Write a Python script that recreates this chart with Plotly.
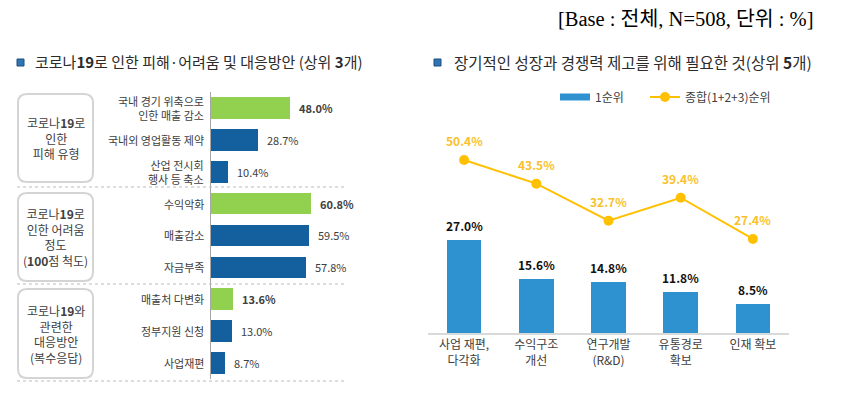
import plotly.graph_objects as go

# page has an 8px body margin; figure sized to fit inside the 841x418 window
OFF = 8
W, H = 825, 402

# ---------------- data ----------------
header_text = "[Base : 전체, N=508, 단위 : %]"
left_title = "코로나<b>19</b>로 인한 피해·어려움 및 대응방안 (상위 <b>3</b>개)"
right_title = "장기적인 성장과 경쟁력 제고를 위해 필요한 것(상위 <b>5</b>개)"

group_names = [
    "코로나<b>19</b>로<br>인한<br>피해 유형",
    "코로나<b>19</b>로<br>인한 어려움<br>정도<br>(<b>100</b>점 척도)",
    "코로나<b>19</b>와<br>관련한<br>대응방안<br>(복수응답)",
]
left_labels = [
    "국내 경기 위축으로<br>인한 매출 감소", "국내외 영업활동 제약", "산업 전시회<br>행사 등 축소",
    "수익악화", "매출감소", "자금부족",
    "매출처 다변화", "정부지원 신청", "사업재편",
]
left_values = [48.0, 28.7, 10.4, 60.8, 59.5, 57.8, 13.6, 13.0, 8.7]
left_group = [0, 0, 0, 1, 1, 1, 2, 2, 2]

right_categories = ["사업 재편,<br>다각화", "수익구조<br>개선", "연구개발<br>(R&D)", "유통경로<br>확보", "인재 확보"]
rank1_values = [27.0, 15.6, 14.8, 11.8, 8.5]
total_values = [50.4, 43.5, 32.7, 39.4, 27.4]
legend_names = ["1순위", "종합(1+2+3)순위"]

# ---------------- helpers ----------------
def px(x):
    return (x - OFF) / W


def py(y):
    return 1 - (y - OFF) / H


FONT = "Noto Sans CJK KR, Noto Sans, sans-serif"
GREEN = "#92D050"
DBLUE = "#14609E"
RBLUE = "#2E92D0"
YEL = "#FFC000"
YEL_TXT = "#F9C12C"
GRAY_TXT = "#404040"

# highlight = max in each group
highlight = []
for i, v in enumerate(left_values):
    gv = [left_values[j] for j in range(len(left_values)) if left_group[j] == left_group[i]]
    highlight.append(v == max(gv))

left_y = list(range(len(left_values)))
right_x = list(range(len(right_categories)))

fig = go.Figure()

# left bars
fig.add_trace(go.Bar(
    x=left_values, y=left_y, orientation="h",
    marker=dict(color=[GREEN if h else DBLUE for h in highlight], line=dict(width=0)),
    width=0.68, xaxis="x", yaxis="y", showlegend=False, hoverinfo="skip",
))

# right bars
fig.add_trace(go.Bar(
    x=right_x, y=rank1_values,
    marker=dict(color=RBLUE, line=dict(width=0)), width=0.48,
    xaxis="x2", yaxis="y2", name=legend_names[0], showlegend=False, hoverinfo="skip",
))
# legend proxy for the bars (flat wide swatch as in the reference)
fig.add_trace(go.Scatter(
    x=[None], y=[None], mode="lines", line=dict(color=RBLUE, width=7),
    xaxis="x2", yaxis="y2", name=legend_names[0], legend="legend",
))
# right line
fig.add_trace(go.Scatter(
    x=right_x, y=total_values, mode="lines+markers",
    line=dict(color=YEL, width=2), marker=dict(color=YEL, size=10),
    xaxis="x2", yaxis="y2", name=legend_names[1], legend="legend2", hoverinfo="skip",
))

annotations = []
shapes = []

# left category labels (right-aligned next to the axis)
for i, lab in enumerate(left_labels):
    annotations.append(dict(
        x=0, y=i, xref="x", yref="y", text=lab, showarrow=False,
        xanchor="right", yanchor="middle", align="right", xshift=-5,
        font=dict(size=11, color=GRAY_TXT, family=FONT),
    ))

# left value labels
for i, v in enumerate(left_values):
    t = f"{v:.1f}%"
    if highlight[i]:
        t = f"<b>{t}</b>"
    annotations.append(dict(
        x=v, y=i, xref="x", yref="y", text=t, showarrow=False,
        xanchor="left", xshift=7, font=dict(size=11, color=GRAY_TXT, family=FONT),
    ))

# right bar labels
for i, v in enumerate(rank1_values):
    annotations.append(dict(
        x=i, y=v, xref="x2", yref="y2", text=f"<b>{v:.1f}%</b>", showarrow=False,
        yanchor="bottom", yshift=4, font=dict(size=12, color="#111111", family=FONT),
    ))
for i, v in enumerate(total_values):
    annotations.append(dict(
        x=i, y=v, xref="x2", yref="y2", text=f"<b>{v:.1f}%</b>", showarrow=False,
        yanchor="bottom", yshift=9, font=dict(size=12, color=YEL_TXT, family=FONT),
    ))

# header
annotations.append(dict(
    x=px(816), y=py(19), xref="paper", yref="paper", text=header_text, showarrow=False,
    xanchor="right", yanchor="middle",
    font=dict(size=20.5, color="#000000", family="Liberation Serif, Noto Sans CJK KR, serif"),
))

# titles
for tx, sx, text, fs in [(33, 20, left_title, 15), (452, 437, right_title, 15.5)]:
    annotations.append(dict(
        x=px(tx), y=py(62), xref="paper", yref="paper", text=text, showarrow=False,
        xanchor="left", yanchor="middle", font=dict(size=fs, color="#2B2B2B", family=FONT),
    ))
    shapes.append(dict(
        type="rect", xref="paper", yref="paper",
        x0=px(sx - 3), x1=px(sx + 4), y0=py(66), y1=py(59),
        fillcolor="#2E75B6", line=dict(color="#1F4E79", width=1),
    ))


# group boxes
def rounded(x0, y0, x1, y1, r):
    pts = [
        f"M {px(x0 + r)},{py(y0)}",
        f"L {px(x1 - r)},{py(y0)}",
        f"Q {px(x1)},{py(y0)} {px(x1)},{py(y0 + r)}",
        f"L {px(x1)},{py(y1 - r)}",
        f"Q {px(x1)},{py(y1)} {px(x1 - r)},{py(y1)}",
        f"L {px(x0 + r)},{py(y1)}",
        f"Q {px(x0)},{py(y1)} {px(x0)},{py(y1 - r)}",
        f"L {px(x0)},{py(y0 + r)}",
        f"Q {px(x0)},{py(y0)} {px(x0 + r)},{py(y0)}",
        "Z",
    ]
    return " ".join(pts)


boxes = [(94, 182), (193, 281), (289, 378)]
for (b0, b1), name in zip(boxes, group_names):
    shapes.append(dict(
        type="path", xref="paper", yref="paper", path=rounded(18, b0, 93, b1, 9),
        line=dict(color="#D4D4D4", width=2), fillcolor="white", layer="below",
    ))
    annotations.append(dict(
        x=px(55.5), y=py((b0 + b1) / 2), xref="paper", yref="paper", text=name,
        showarrow=False, xanchor="center", yanchor="middle",
        font=dict(size=12, color=GRAY_TXT, family=FONT),
    ))

# dotted separators
for ys in [187, 284, 381]:
    shapes.append(dict(
        type="line", xref="paper", yref="paper", x0=px(17), x1=px(345), y0=py(ys), y1=py(ys),
        line=dict(color="#BBBBBB", width=1, dash="dot"),
    ))

legend_common = dict(
    orientation="h", xanchor="left", yanchor="middle",
    font=dict(size=12, color=GRAY_TXT, family=FONT), bgcolor="rgba(0,0,0,0)",
    itemwidth=30,
)

fig.update_layout(
    width=W, height=H, margin=dict(l=0, r=0, t=0, b=0, autoexpand=False),
    paper_bgcolor="white", plot_bgcolor="rgba(0,0,0,0)",
    font=dict(family=FONT, color=GRAY_TXT),
    bargap=0,
    xaxis=dict(domain=[px(211), px(375.5)], range=[0, 100], visible=False, fixedrange=True),
    yaxis=dict(
        domain=[py(379), py(92)], range=[8.5, -0.5], showticklabels=False,
        showgrid=False, zeroline=False, showline=True, linecolor="#A6A6A6", linewidth=1,
        ticks="", anchor="x",
    ),
    xaxis2=dict(
        domain=[px(428), px(789)], range=[-0.5, 4.5], tickvals=right_x,
        ticktext=right_categories, showgrid=False, zeroline=False, showline=True,
        linecolor="#D9D9D9", linewidth=2, ticks="", anchor="y2",
        tickfont=dict(size=12, color=GRAY_TXT, family=FONT),
    ),
    yaxis2=dict(domain=[py(333), py(127)], range=[0, 60], visible=False, anchor="x2"),
    legend=dict(x=px(555), y=py(97), **legend_common),
    legend2=dict(x=px(645), y=py(97), **legend_common),
    annotations=annotations, shapes=shapes,
)

fig.write_html("out.html")
